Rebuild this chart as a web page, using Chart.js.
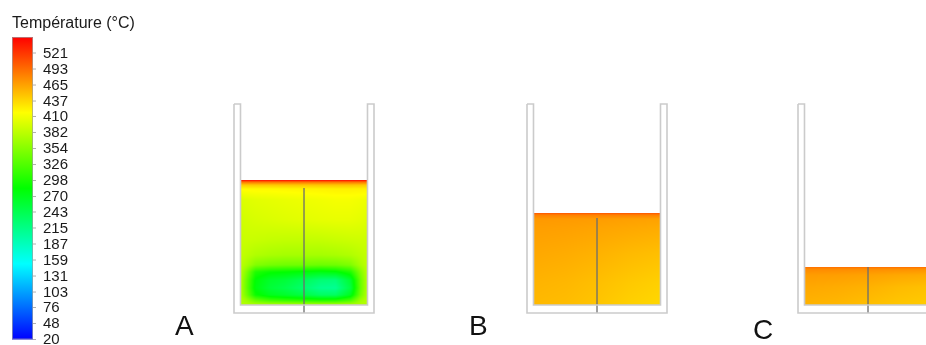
<!DOCTYPE html>
<html>
<head>
<meta charset="utf-8">
<script src="https://cdn.jsdelivr.net/npm/chart.js@4.4.0/dist/chart.umd.min.js"></script>
<style>
  html, body { margin: 0; padding: 0; background: #fff; }
  #wrap { width: 926px; height: 345px; }
</style>
</head>
<body>
<div id="wrap"><canvas id="cfd" width="926" height="345"></canvas></div>
<script>
// legend range (°C) and the labels shown next to the colour bar
const tempMin = 20;
const tempMax = 549;
const tickLabels = ['521', '493', '465', '437', '410', '382', '354', '326', '298', '270',
                    '243', '215', '187', '159', '131', '103', '76', '48', '20'];

const cases = ['A', 'B', 'C'];
// depth of the melt in each crucible (drawing units)
const meltDepth = [125, 92, 38];

// temperature fields
// rows = depth below the surface, cols = distance from the left wall
const colsA = [0, 6, 15, 30, 45, 63, 80, 95, 110, 120, 127];
const rowsA = [0, 2, 5, 9, 20, 40, 60, 75, 85, 92, 100, 108, 115, 120, 125];
const tempA = [
  [545, 545, 545, 545, 545, 545, 545, 545, 545, 545, 545],
  [490, 490, 490, 490, 490, 490, 490, 490, 490, 490, 490],
  [442, 444, 445, 445, 446, 446, 447, 447, 447, 446, 445],
  [418, 419, 420, 420, 421, 422, 423, 424, 424, 424, 423],
  [398, 400, 402, 404, 406, 408, 410, 412, 412, 410, 408],
  [392, 394, 396, 398, 400, 402, 404, 405, 405, 403, 400],
  [388, 389, 388, 386, 385, 385, 386, 388, 390, 391, 390],
  [386, 382, 376, 372, 370, 370, 370, 372, 376, 382, 386],
  [382, 372, 352, 345, 342, 342, 340, 342, 350, 372, 384],
  [380, 352, 300, 288, 285, 280, 275, 280, 300, 352, 382],
  [378, 340, 282, 262, 255, 240, 225, 222, 260, 340, 380],
  [377, 338, 278, 255, 245, 228, 210, 208, 250, 338, 379],
  [377, 345, 290, 270, 262, 250, 235, 235, 270, 345, 379],
  [378, 365, 335, 315, 308, 302, 296, 298, 320, 365, 380],
  [378, 378, 378, 378, 378, 378, 378, 378, 378, 378, 378]
];

const colsB = [0, 32, 63, 95, 127];
const rowsB = [0, 2, 6, 15, 40, 70, 92];
const tempB = [
  [505, 505, 505, 505, 505],
  [482, 482, 482, 482, 482],
  [470, 469, 468, 466, 465],
  [467, 466, 464, 462, 460],
  [462, 460, 457, 453, 450],
  [456, 454, 450, 445, 441],
  [453, 451, 447, 441, 437]
];

const colsC = [0, 32, 63, 95, 127];
const rowsC = [0, 2, 8, 20, 38];
const tempC = [
  [492, 492, 492, 492, 492],
  [478, 477, 476, 475, 474],
  [468, 467, 465, 462, 460],
  [462, 460, 457, 452, 449],
  [456, 454, 450, 446, 443]
];

const fields = [
  { cols: colsA, rows: rowsA, temps: tempA },
  { cols: colsB, rows: rowsB, temps: tempB },
  { cols: colsC, rows: rowsC, temps: tempC }
];

// crucible geometry (drawing units, y up)
const crucibleLeft = [234, 527, 798];
const wall = 6.5;
const innerWidth = 127;
const wallTop = 241;
const outerBottom = 32;
const innerBottom = 40;
const probeGap = [8, 5, 0]; // centre line starts a bit under the surface
const labelX = [175, 469, 753];
const labelY = [10, 10, 6];

// rainbow map used by the legend
const stops = [[0, 0, 255], [0, 255, 255], [0, 255, 0], [255, 255, 0], [255, 0, 0]];
function tempColor(t) {
  let f = (t - tempMin) / (tempMax - tempMin);
  f = Math.max(0, Math.min(1, f));
  const s = f * 4;
  const i = Math.min(3, Math.floor(s));
  const u = s - i;
  const a = stops[i], b = stops[i + 1];
  return [a[0] + (b[0] - a[0]) * u, a[1] + (b[1] - a[1]) * u, a[2] + (b[2] - a[2]) * u];
}

function locate(arr, v) {
  let i = 0;
  while (i < arr.length - 2 && v > arr[i + 1]) i++;
  const u = (v - arr[i]) / (arr[i + 1] - arr[i]);
  return [i, Math.max(0, Math.min(1, u))];
}

function sampleField(field, c, d) {
  const [i, u] = locate(field.cols, c);
  const [j, w] = locate(field.rows, d);
  const g = field.temps;
  const top = g[j][i] * (1 - u) + g[j][i + 1] * u;
  const bot = g[j + 1][i] * (1 - u) + g[j + 1][i + 1] * u;
  return top * (1 - w) + bot * w;
}

// contour fill of the melt, drawn under the crucible outlines
const meltPlugin = {
  id: 'meltField',
  beforeDatasetsDraw(chart) {
    const { ctx, chartArea, scales: { x, y } } = chart;
    ctx.save();
    ctx.beginPath();
    ctx.rect(chartArea.left, chartArea.top, chartArea.right - chartArea.left, chartArea.bottom - chartArea.top);
    ctx.clip();
    cases.forEach((name, k) => {
      const field = fields[k];
      const x0 = x.getPixelForValue(crucibleLeft[k] + wall);
      const x1 = x.getPixelForValue(crucibleLeft[k] + wall + innerWidth);
      const yTop = y.getPixelForValue(innerBottom + meltDepth[k]);
      const yBot = y.getPixelForValue(innerBottom);
      const w = Math.max(1, Math.round(x1 - x0));
      const h = Math.max(1, Math.round(yBot - yTop));
      const off = document.createElement('canvas');
      off.width = w;
      off.height = h;
      const octx = off.getContext('2d');
      const img = octx.createImageData(w, h);
      for (let py = 0; py < h; py++) {
        const d = (py + 0.5) / h * meltDepth[k];
        for (let px = 0; px < w; px++) {
          const c = (px + 0.5) / w * innerWidth;
          const rgb = tempColor(sampleField(field, c, d));
          const p = (py * w + px) * 4;
          img.data[p] = rgb[0];
          img.data[p + 1] = rgb[1];
          img.data[p + 2] = rgb[2];
          img.data[p + 3] = 255;
        }
      }
      octx.putImageData(img, 0, 0);
      ctx.drawImage(off, x0, yTop, x1 - x0, yBot - yTop);
    });
    ctx.restore();
  },
  afterDatasetsDraw(chart) {
    const { ctx, scales: { x, y, yT } } = chart;
    ctx.save();
    // colour bar
    const bx0 = x.getPixelForValue(12), bx1 = x.getPixelForValue(33);
    const top = yT.getPixelForValue(tempMax), bottom = yT.getPixelForValue(tempMin);
    const grad = ctx.createLinearGradient(0, bottom, 0, top);
    stops.forEach((s, i) => grad.addColorStop(i / 4, `rgb(${s[0]},${s[1]},${s[2]})`));
    ctx.fillStyle = grad;
    ctx.fillRect(bx0, top, bx1 - bx0, bottom - top);
    ctx.strokeStyle = 'rgba(160,160,160,0.7)';
    ctx.lineWidth = 1;
    ctx.strokeRect(bx0 + 0.5, top + 0.5, bx1 - bx0 - 1, bottom - top - 1);

    ctx.font = '15px "Liberation Sans", Arial, sans-serif';
    ctx.fillStyle = '#1a1a1a';
    ctx.textAlign = 'left';
    ctx.textBaseline = 'middle';
    ctx.strokeStyle = '#b0b0b0';
    tickLabels.forEach(lbl => {
      const py = yT.getPixelForValue(Number(lbl));
      ctx.beginPath();
      ctx.moveTo(bx1, py);
      ctx.lineTo(bx1 + 3, py);
      ctx.stroke();
      ctx.fillText(lbl, x.getPixelForValue(43), py + 0.5);
    });

    ctx.textBaseline = 'alphabetic';
    ctx.font = '16px "Liberation Sans", Arial, sans-serif';
    ctx.fillText('Température (°C)', x.getPixelForValue(12), y.getPixelForValue(317));

    ctx.font = '28px "Liberation Sans", Arial, sans-serif';
    ctx.fillStyle = '#111';
    cases.forEach((name, k) => {
      ctx.fillText(name, x.getPixelForValue(labelX[k]), y.getPixelForValue(labelY[k]));
    });
    ctx.restore();
  }
};

function crucibleOutline(L) {
  return [
    { x: L, y: wallTop }, { x: L, y: outerBottom },
    { x: L + 2 * wall + innerWidth, y: outerBottom }, { x: L + 2 * wall + innerWidth, y: wallTop },
    { x: L + wall + innerWidth, y: wallTop }, { x: L + wall + innerWidth, y: innerBottom },
    { x: L + wall, y: innerBottom }, { x: L + wall, y: wallTop }, { x: L, y: wallTop }
  ];
}

const datasets = [];
crucibleLeft.forEach((L, k) => {
  datasets.push({
    label: 'crucible ' + cases[k],
    data: crucibleOutline(L),
    showLine: true,
    borderColor: '#cbcbcb',
    borderWidth: 1.6,
    pointRadius: 0,
    fill: false
  });
  const cx = L + wall + innerWidth / 2;
  datasets.push({
    label: 'axis ' + cases[k],
    data: [{ x: cx, y: innerBottom + meltDepth[k] - probeGap[k] }, { x: cx, y: outerBottom }],
    showLine: true,
    borderColor: 'rgba(110,110,110,0.6)',
    borderWidth: 1,
    pointRadius: 0,
    fill: false
  });
});

const ctx = document.getElementById('cfd').getContext('2d');
const chart = new Chart(ctx, {
  type: 'scatter',
  data: { datasets: datasets },
  options: {
    responsive: false,
    animation: false,
    events: [],
    layout: { padding: 0 },
    plugins: { legend: { display: false }, tooltip: { enabled: false } },
    scales: {
      x: { type: 'linear', min: 0, max: 926, display: false },
      y: { type: 'linear', min: 0, max: 345, display: false },
      yT: { type: 'linear', min: 10.4, max: 613.7, display: false }
    }
  },
  plugins: [meltPlugin]
});
</script>
</body>
</html>
